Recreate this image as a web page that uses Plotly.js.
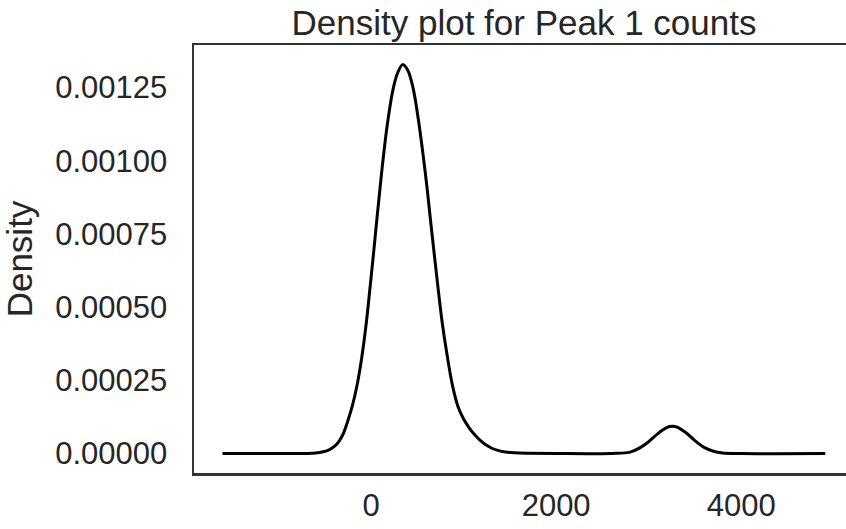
<!DOCTYPE html>
<html>
<head>
<meta charset="utf-8">
<script src="https://cdn.plot.ly/plotly-3.0.1.min.js"></script>
<style>html,body{margin:0;padding:0;background:#fff;}#chart{width:846px;height:529px;}</style>
</head>
<body>
<div id="chart"></div>
<script>
// Density curve (x = counts, y = density)
const countsX = [-1606, -1000, -700, -600, -520, -460, -421, -380, -340, -300, -255, -205, -155, -100, -50, -12, 25, 60, 97, 135, 180, 240, 290, 341,
  395, 454, 514, 562, 605, 644, 684, 724, 767, 821, 880, 940, 1000, 1060, 1120, 1180, 1240, 1300, 1370, 1450, 1550, 1700, 2000, 2600, 2800,
  2900, 3000, 3100, 3200, 3257, 3300, 3400, 3500, 3600, 3700, 3800, 4000, 4909];
const densityY = [0, 0, 0.0000005, 0.000002, 0.000006, 0.000012, 0.0000188, 0.000029, 0.000045, 0.000068, 0.000108, 0.000160, 0.000228, 0.000330, 0.000451, 0.000565, 0.000679, 0.000792, 0.000907, 0.001020, 0.001134, 0.001248, 0.001302, 0.001328,
  0.001310, 0.001248, 0.001134, 0.001020, 0.000907, 0.000792, 0.000677, 0.000565, 0.000451, 0.000337, 0.000232, 0.000160, 0.000118, 0.000088, 0.000064, 0.000045, 0.000030, 0.000019, 0.000011, 0.0000055, 0.0000025, 0.000001, 0, 0.0000005, 0.000005,
  0.0000186, 0.0000404, 0.0000681, 0.0000893, 0.000093, 0.0000909, 0.0000718, 0.0000441, 0.0000211, 0.0000078, 0.0000022, 0.0000002, 0];
const xTickVals = [0, 2000, 4000];
const xTickText = ['0', '2000', '4000'];
const yTickVals = [0, 0.00025, 0.0005, 0.00075, 0.001, 0.00125];
const yTickText = ['0.00000', '0.00025', '0.00050', '0.00075', '0.00100', '0.00125'];

const fontFam = 'Liberation Sans, Arial, sans-serif';
const textColor = '#262626';

const trace = {
  x: countsX, y: densityY, type: 'scatter', mode: 'lines',
  line: {color: '#000000', width: 3, shape: 'spline', smoothing: 1},
  hoverinfo: 'skip', showlegend: false
};

const layout = {
  width: 846, height: 529,
  margin: {l: 194, r: 0, t: 45, b: 56, pad: 0},
  paper_bgcolor: '#ffffff', plot_bgcolor: '#ffffff',
  font: {family: fontFam, color: textColor, size: 31},
  title: {text: 'Density plot for Peak 1 counts', font: {family: fontFam, size: 35, color: textColor},
    x: 524/846, xref: 'container', xanchor: 'center', y: 1 - 23/529, yref: 'container', yanchor: 'middle'},
  xaxis: {range: [-1914, 5133], tickvals: xTickVals, ticktext: xTickText, showgrid: false, zeroline: false,
    showline: true, mirror: true, linecolor: '#333333', linewidth: 2.5, ticks: '', ticklabelstandoff: 3,
    tickfont: {size: 31, color: textColor, family: fontFam}},
  yaxis: {range: [-0.0000664, 0.001395], tickvals: yTickVals, ticktext: yTickText, showgrid: false, zeroline: false,
    showline: true, mirror: false, linecolor: '#333333', linewidth: 2.5, ticks: '', ticklabelstandoff: 18,
    tickfont: {size: 31, color: textColor, family: fontFam},
    title: {text: 'Density', font: {size: 35, color: textColor, family: fontFam}, standoff: 16}}
};

Plotly.newPlot('chart', [trace], layout, {staticPlot: true, displayModeBar: false});
</script>
</body>
</html>
